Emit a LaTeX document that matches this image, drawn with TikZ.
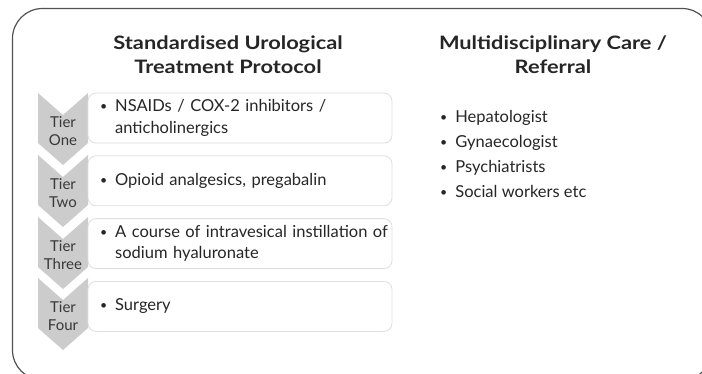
\documentclass[tikz,border=0pt]{standalone}
\usepackage{fontspec}
\setmainfont{Lato}
\newfontfamily\headfont{Lato}[FakeStretch=1.18]
\usepackage{xcolor}
\usetikzlibrary{calc,positioning}
\newcommand{\bul}{\raisebox{1pt}{\scalebox{0.75}{\textbullet}}}

\begin{document}
\begin{tikzpicture}[x=1pt, y=-1pt,
  frame/.style={draw=black!68, line width=1.2pt, rounded corners=30pt},
  tier/.style={fill=black!20, draw=none},
  tierlabel/.style={align=center, inner sep=0pt, font=\fontsize{15}{18.5}\selectfont, text=black!78},
  itembox/.style={draw=black!13, fill=white, rounded corners=8pt, line width=0.8pt,
    minimum width=304pt, minimum height=50pt, text width=280pt, inner xsep=12pt, align=left},
  item/.style={font=\fontsize{16.5}{21.5}\selectfont, text=black!85},
  head/.style={align=center, font=\headfont\bfseries\fontsize{18.5}{24}\selectfont, text=black!85},
  reflist/.style={anchor=north west, inner sep=0pt, font=\fontsize{16.5}{25}\selectfont, text=black!85}
]
\useasboundingbox (0,0) rectangle (702,373);
\clip (0,0) rectangle (702,373);
\draw[frame] (12.5,8.5) rectangle (712,380);

% headings
\node[head] (lefthead) at (228,55) {Standardised Urological\\Treatment Protocol};
\node[head] (righthead) at (553,55) {Multidisciplinary Care /\\Referral};

% chevrons down the left
\foreach \t/\lbl [count=\i] in {93/One,155/Two,217/Three,278/Four} {
  \fill[tier] (38,\t) -- (63,\t+22) -- (88,\t) -- (88,\t+50) -- (63,\t+72) -- (38,\t+50) -- cycle;
  \node[tierlabel] (tier\i) at (63,\t+38) {Tier\\\lbl};
}

% tier boxes
\node[itembox, item] (box1) at (240,118) {\begin{tabular}{@{}l@{\hspace{8pt}}l@{}}\bul & NSAIDs / COX-2 inhibitors /\\ & anticholinergics\end{tabular}};
\node[itembox, item, below=12pt of box1] (box2) {\begin{tabular}{@{}l@{\hspace{8pt}}l@{}}\bul & Opioid analgesics, pregabalin\end{tabular}};
\node[itembox, item, below=12pt of box2] (box3) {\begin{tabular}{@{}l@{\hspace{8pt}}l@{}}\bul & A course of intravesical instillation of\\ & sodium hyaluronate\end{tabular}};
\node[itembox, item, below=12pt of box3] (box4) {\begin{tabular}{@{}l@{\hspace{8pt}}l@{}}\bul & Surgery\end{tabular}};

% referrals
\node[reflist] (referrals) at (440,105) {\begin{tabular}{@{}l@{\hspace{8pt}}l@{}}
\bul & Hepatologist\\
\bul & Gynaecologist\\
\bul & Psychiatrists\\
\bul & Social workers etc
\end{tabular}};
\end{tikzpicture}
\end{document}
